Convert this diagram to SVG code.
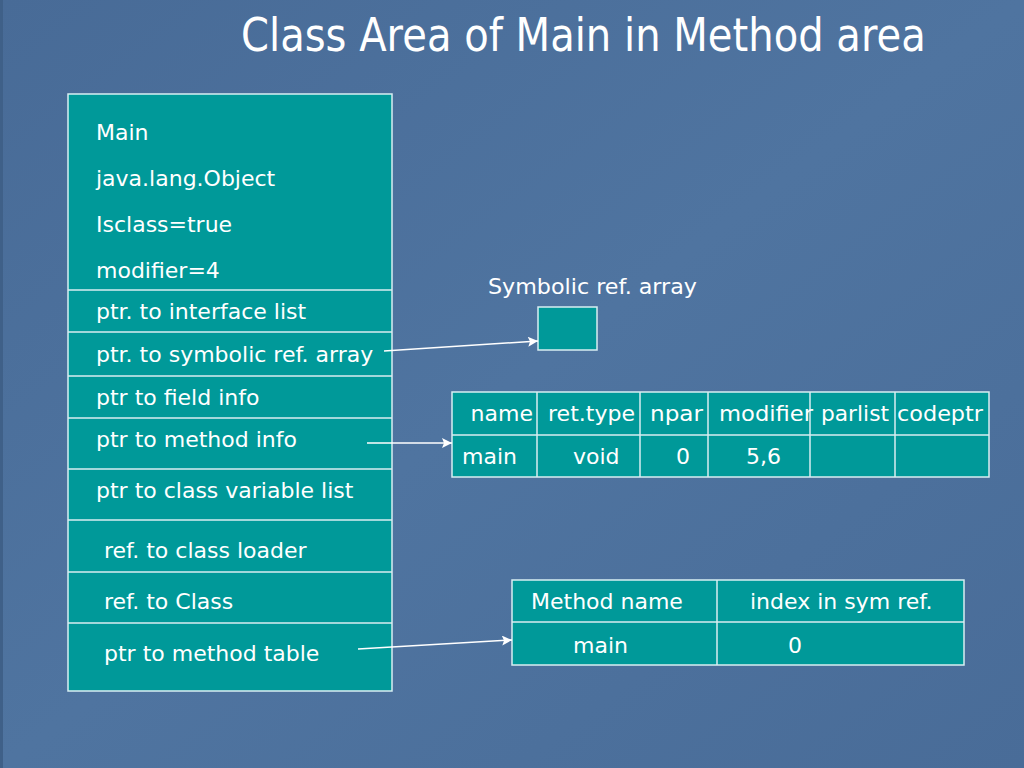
<svg xmlns="http://www.w3.org/2000/svg" width="1024" height="768" viewBox="0 0 1024 768">
<defs>
<style>
.cell{fill:#009999;stroke:#d8eef2;stroke-width:1.5}
.sep{stroke:#d8eef2;stroke-width:1.5}
.t{font-family:"DejaVu Sans","Verdana",sans-serif;font-size:22px;fill:#ffffff}
.title{font-family:"DejaVu Sans","Verdana",sans-serif;font-size:46px;fill:#ffffff}
.con{stroke:#ffffff;stroke-width:1.5;fill:none;marker-end:url(#ah)}
</style>
<marker id="ah" viewBox="0 0 10 10" refX="10" refY="5" markerWidth="11" markerHeight="10" orient="auto" markerUnits="userSpaceOnUse">
<path d="M0,0 L10,5 L0,10 L2,5 z" fill="#ffffff"/>
</marker>
<linearGradient id="bgg" x1="0" y1="0" x2="1" y2="1">
<stop offset="0" stop-color="#486b97"/>
<stop offset="0.5" stop-color="#4f74a0"/>
<stop offset="1" stop-color="#496c98"/>
</linearGradient>
</defs>
<rect x="0" y="0" width="1024" height="768" fill="url(#bgg)"/>
<rect x="0" y="0" width="3" height="768" fill="#3f6088"/>
<g transform="translate(241,51) scale(0.75,1)">
<text class="title" x="0" y="0" textLength="913" lengthAdjust="spacingAndGlyphs">Class Area of Main in Method area</text>
</g>

<g id="main-class">
<rect class="cell" x="68" y="94" width="324" height="597"/>
<line class="sep" x1="68" y1="290" x2="392" y2="290"/>
<line class="sep" x1="68" y1="332" x2="392" y2="332"/>
<line class="sep" x1="68" y1="376" x2="392" y2="376"/>
<line class="sep" x1="68" y1="418" x2="392" y2="418"/>
<line class="sep" x1="68" y1="469" x2="392" y2="469"/>
<line class="sep" x1="68" y1="520" x2="392" y2="520"/>
<line class="sep" x1="68" y1="572" x2="392" y2="572"/>
<line class="sep" x1="68" y1="623" x2="392" y2="623"/>
<text class="t" x="96" y="140">Main</text>
<text class="t" x="96" y="186">java.lang.Object</text>
<text class="t" x="96" y="232">Isclass=true</text>
<text class="t" x="96" y="278">modifier=4</text>
<text class="t" x="96" y="319">ptr. to interface list</text>
<text class="t" x="96" y="362">ptr. to symbolic ref. array</text>
<text class="t" x="96" y="405">ptr to field info</text>
<text class="t" x="96" y="447">ptr to method info</text>
<text class="t" x="96" y="498">ptr to class variable list</text>
<text class="t" x="104" y="558">ref. to class loader</text>
<text class="t" x="104" y="609">ref. to Class</text>
<text class="t" x="104" y="661">ptr to method table</text>
</g>

<g id="symbolic-ref-array">
<text class="t" x="488" y="294" textLength="209" lengthAdjust="spacingAndGlyphs">Symbolic ref. array</text>
<rect class="cell" x="538" y="307" width="59" height="43"/>
</g>

<g id="method-info">
<rect class="cell" x="452" y="392" width="537" height="85"/>
<line class="sep" x1="452" y1="435" x2="989" y2="435"/>
<line class="sep" x1="537" y1="392" x2="537" y2="477"/>
<line class="sep" x1="640" y1="392" x2="640" y2="477"/>
<line class="sep" x1="708" y1="392" x2="708" y2="477"/>
<line class="sep" x1="810" y1="392" x2="810" y2="477"/>
<line class="sep" x1="895" y1="392" x2="895" y2="477"/>
<text class="t" x="533" y="421" text-anchor="end">name</text>
<text class="t" x="548" y="421" textLength="87" lengthAdjust="spacingAndGlyphs">ret.type</text>
<text class="t" x="650" y="421" textLength="53" lengthAdjust="spacingAndGlyphs">npar</text>
<text class="t" x="719" y="421" textLength="94" lengthAdjust="spacingAndGlyphs">modifier</text>
<text class="t" x="821" y="421" textLength="68" lengthAdjust="spacingAndGlyphs">parlist</text>
<text class="t" x="897" y="421" textLength="86" lengthAdjust="spacingAndGlyphs">codeptr</text>
<text class="t" x="462" y="464">main</text>
<text class="t" x="573" y="464">void</text>
<text class="t" x="676" y="464">0</text>
<text class="t" x="746" y="464">5,6</text>
</g>

<g id="method-table">
<rect class="cell" x="512" y="580" width="452" height="85"/>
<line class="sep" x1="512" y1="622" x2="964" y2="622"/>
<line class="sep" x1="717" y1="580" x2="717" y2="665"/>
<text class="t" x="531" y="609">Method name</text>
<text class="t" x="750" y="609">index in sym ref.</text>
<text class="t" x="573" y="653">main</text>
<text class="t" x="788" y="653">0</text>
</g>

<g id="connectors">
<line class="con" x1="384" y1="351" x2="538" y2="341"/>
<line class="con" x1="367" y1="443" x2="452" y2="443"/>
<line class="con" x1="358" y1="649" x2="512" y2="640"/>
</g>
</svg>
